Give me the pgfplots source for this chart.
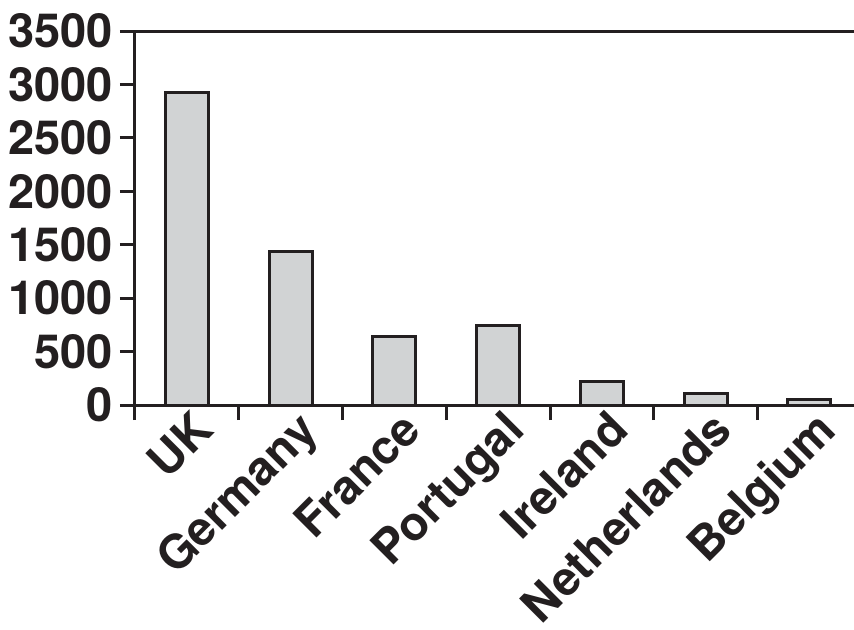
\documentclass[border=0pt]{standalone}
\usepackage{fontspec}
\setmainfont{TeX Gyre Heros}
\usepackage{pgfplots}
\pgfplotsset{compat=1.18}
\definecolor{barfill}{RGB}{209,211,212}
\definecolor{ink}{RGB}{35,31,32}
\begin{document}
\begin{tikzpicture}
\useasboundingbox (-67.5pt,-112pt) rectangle (359.5pt,202.5pt);
\begin{axis}[
	scale only axis,
	width = 359.5pt,
	height = 187pt,
	ybar,
	bar width = 21.5pt,
	xmin = -0.5,
	xmax = 6.43,
	ymin = 0,
	ymax = 3500,
	ytick = {0,500,...,3500},
	axis x line* = box,
	axis y line* = left,
	xtick pos = left,
	ytick pos = left,
	xtick = {-0.5,0.5,...,5.5},
	xticklabels = {},
	extra x ticks = {0,1,2,3,4,5,6},
	extra x tick labels = {UK,Germany,France,Portugal,Ireland,Netherlands,Belgium},
	extra x tick style = {
		major tick length = 0pt,
		xticklabel style = {rotate = 45, anchor = north east, inner sep = 0pt, yshift = -2.5pt, xshift = 0.5pt}
	},
	tick align = outside,
	major tick length = 7.5pt,
	axis line style = {line width = 1.5pt, ink},
	tick style = {line width = 1.5pt, ink},
	tick label style = {font = \fontsize{23.5}{26}\bfseries\selectfont, text = ink},
	/pgf/number format/assume math mode = true,
	/pgf/number format/1000 sep = {},
	scaled ticks = false,
	clip = false
]
\addplot[draw = ink, fill = barfill, line width = 1.5pt] coordinates {
	(0, 2920)
	(1, 1432)
	(2, 638)
	(3, 748)
	(4, 218)
	(5, 109)
	(6, 53)
};
\end{axis}
\end{tikzpicture}
\end{document}
